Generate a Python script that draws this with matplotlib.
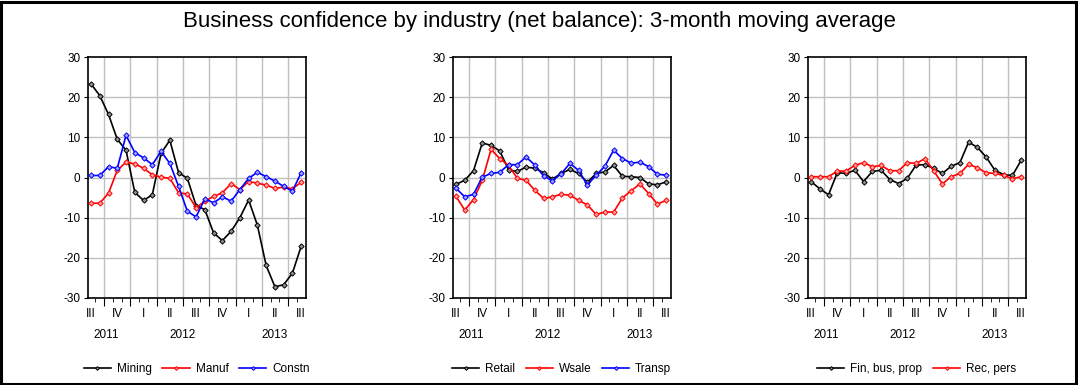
import matplotlib
matplotlib.use("Agg")
import matplotlib.pyplot as plt
from matplotlib.patches import Rectangle
import numpy as np

plt.rcParams['font.family'] = ['Liberation Sans', 'DejaVu Sans']
plt.rcParams['axes.unicode_minus'] = False

quarter_labels = ["III", "IV", "I", "II", "III", "IV", "I", "II", "III"]
year_labels = ["2011", "2012", "2013"]

mining = [23.3, 20.4, 15.7, 9.5, 6.8, -3.7, -5.7, -4.3, 6.0, 9.3, 1.2, -0.2, -7.0,
          -8.0, -13.8, -15.7, -13.4, -10.0, -5.6, -11.9, -21.9, -27.2, -26.7, -23.8, -17.1]
manuf = [-6.4, -6.4, -3.9, 1.8, 3.8, 3.4, 2.3, 0.7, 0.1, -0.2, -3.8, -4.1, -7.5,
         -5.9, -4.7, -3.8, -1.5, -3.0, -1.0, -1.4, -1.9, -2.7, -2.4, -2.8, -1.2]
constn = [0.5, 0.5, 2.7, 2.3, 10.5, 6.2, 4.9, 3.2, 6.5, 3.5, -2.2, -8.4, -9.8,
          -5.3, -6.3, -4.8, -5.9, -3.0, -0.2, 1.3, 0.2, -0.9, -2.2, -3.4, 1.2]

retail = [-1.7, -0.7, 1.7, 8.6, 8.0, 6.6, 1.9, 1.5, 2.6, 2.3, 1.2, -0.4, 1.0,
          2.0, 1.0, -1.2, 1.0, 1.4, 3.0, 0.3, 0.2, 0.0, -1.6, -1.8, -1.1]
wsale = [-4.7, -8.1, -5.5, -0.7, 7.0, 4.7, 3.0, -0.2, -0.7, -3.2, -5.2, -4.8, -4.2,
         -4.4, -5.7, -6.8, -9.2, -8.6, -8.6, -5.1, -3.3, -1.6, -4.0, -6.6, -5.7]
transp = [-2.7, -4.8, -4.2, 0.1, 1.0, 1.3, 3.2, 3.2, 5.1, 3.1, 0.4, -0.8, 0.9,
          3.5, 1.8, -1.9, 0.6, 2.8, 6.8, 4.7, 3.6, 3.8, 2.7, 0.8, 0.6]

finbus = [-1.0, -2.8, -4.3, 1.2, 1.0, 1.8, -1.0, 1.5, 1.8, -0.5, -1.5, -0.2, 3.1,
          3.2, 2.3, 1.0, 2.8, 3.7, 8.8, 7.5, 5.1, 1.8, 0.7, 0.5, 4.3]
recpers = [0.2, 0.2, 0.2, 1.6, 1.6, 3.0, 3.7, 2.7, 3.0, 1.7, 1.7, 3.7, 3.5,
           4.7, 1.7, -1.6, 0.2, 1.0, 3.3, 2.4, 1.2, 1.0, 0.5, -0.3, 0.2]

panels = [
    [("Mining", mining, "#000000"), ("Manuf", manuf, "#ff0000"), ("Constn", constn, "#0000ff")],
    [("Retail", retail, "#000000"), ("Wsale", wsale, "#ff0000"), ("Transp", transp, "#0000ff")],
    [("Fin, bus, prop", finbus, "#000000"), ("Rec, pers", recpers, "#ff0000")],
]

face = {"#000000": "#909090", "#ff0000": "#ffa0a0", "#0000ff": "#a0a0ff"}

W, H = 1078, 385
fig = plt.figure(figsize=(W / 100, H / 100), dpi=100)
fig.patches.append(Rectangle((1 / W, 1 / H), 1 - 3 / W, 1 - 3 / H, transform=fig.transFigure,
                             fill=False, edgecolor="black", linewidth=2.2))
fig.text(0.5, 1 - 22 / H, "Business confidence by industry (net balance): 3-month moving average",
         ha="center", va="center", fontsize=16)

lefts = [87.5, 452.5, 807.5]
aw, top, bot = 218.5, 57, 298
n = len(mining)
x = np.arange(n)

for left, series in zip(lefts, panels):
    ax = fig.add_axes([left / W, (H - bot) / H, aw / W, (bot - top) / H])
    for name, vals, col in series:
        ax.plot(x, vals, color=col, lw=1.2, marker="D", ms=2.7, mfc=face[col], mec=col,
                mew=0.7, label=name, zorder=3)
    ax.set_xlim(-0.4, n - 0.45)
    ax.set_ylim(-30, 30)
    ax.set_yticks([-30, -20, -10, 0, 10, 20, 30])
    ax.tick_params(axis="y", direction="out", length=3, labelsize=8.5, pad=2)
    for yv in [-20, -10, 0, 10, 20]:
        ax.axhline(yv, color="#c0c0c0", lw=1, zorder=1)
    major = np.arange(1.5, n - 1, 3)
    for xv in major:
        ax.axvline(xv, color="#c0c0c0", lw=1, zorder=1)
    ax.set_xticks(major)
    ax.set_xticklabels([])
    ax.set_xticks(np.arange(0.5, n - 0.5, 1), minor=True)
    ax.tick_params(axis="x", which="major", direction="out", length=6)
    ax.tick_params(axis="x", which="minor", direction="out", length=3)
    for k, ql in enumerate(quarter_labels):
        ax.text(3 * k, -0.065, ql, transform=ax.get_xaxis_transform(), ha="center", va="center",
                fontsize=8.5)
    for xv, yl in zip([1.7, 10.5, 20.95], year_labels):
        ax.text(xv, -0.155, yl, transform=ax.get_xaxis_transform(), ha="center", va="center",
                fontsize=8.5)
    for s in ax.spines.values():
        s.set_linewidth(1.2)
    ax.legend(loc="center", bbox_to_anchor=(0.5, -0.295), ncol=len(series), frameon=False,
              fontsize=8.5, handlelength=2.3, handletextpad=0.5, columnspacing=0.9,
              borderaxespad=0, markerscale=0.7)

fig.savefig("out.png", dpi=100)
